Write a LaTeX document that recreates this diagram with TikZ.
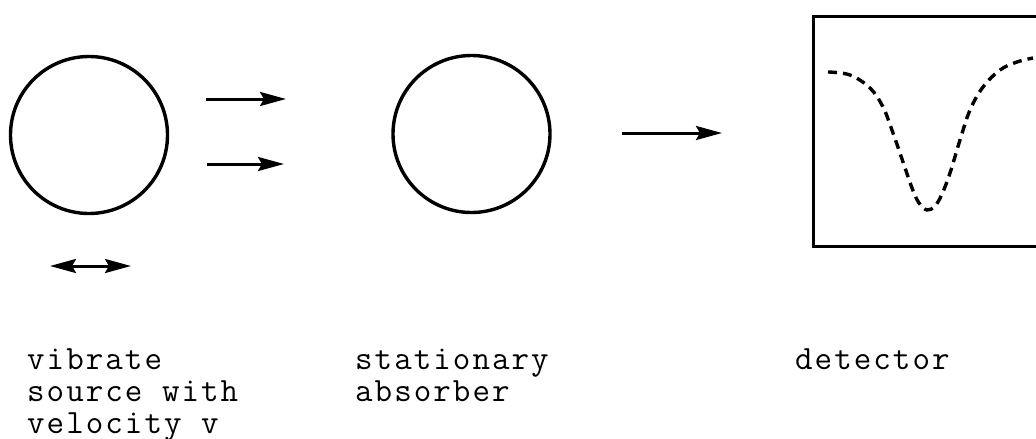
\documentclass[tikz,border=0pt]{standalone}
\usepackage{fontspec}
\newfontfamily\tw[LetterSpace=6]{Latin Modern Mono}
\usetikzlibrary{arrows.meta}
\tikzset{
  ring/.style={circle, draw, line width=3.4pt, minimum size=157pt, inner sep=0pt},
  beam/.style={line width=3pt, -{Stealth[length=26pt,width=14pt,inset=4pt]}},
  shake/.style={line width=3pt, {Stealth[length=26pt,width=14pt,inset=4pt]}-{Stealth[length=26pt,width=14pt,inset=4pt]}},
  label/.style={anchor=base west, inner sep=0pt, align=left, font={\tw\fontsize{34}{32}\selectfont}},
  spectrum/.style={line width=3.4pt, dash pattern=on 9pt off 6pt}
}
\begin{document}
\begin{tikzpicture}[x=1pt,y=-1pt]
\useasboundingbox (0,0) rectangle (1036,439);
\clip (0,0) rectangle (1036,439);
% source and absorber
\node[ring] (src) at (89,135) {};
\node[ring] (abs) at (471.5,134) {};
% arrows
\coordinate (a1s) at (206,99);  \coordinate (a1e) at (286,99);
\coordinate (a2s) at (207,164); \coordinate (a2e) at (284,164);
\coordinate (a3s) at (622,133); \coordinate (a3e) at (722,133);
\coordinate (vs) at (50,266);   \coordinate (ve) at (131,266);
\draw[beam] (a1s) -- (a1e);
\draw[beam] (a2s) -- (a2e);
\draw[beam] (a3s) -- (a3e);
\draw[shake] (vs) -- (ve);
% detector box (right side beyond frame)
\node[draw, line width=3.4pt, minimum width=240pt, minimum height=230pt, anchor=north west, inner sep=0pt] (det) at (812,15) {};
\draw[spectrum] plot[smooth, tension=0.6] coordinates {
 (828,72) (850,75) (870,88) (883,107) (893,133) (903,162) (912,188)
 (919,203) (927,210) (935,206) (942,194) (950,173) (960,140) (970,110) (983,87) (1000,70)
 (1017,62) (1033,58)};
% labels (anchored at the baseline of the last line)
\node[label] (l1) at (27,433) {vibrate\\source with\\velocity v};
\node[label] (l2) at (355,401) {stationary\\absorber};
\node[label] (l3) at (795,369) {detector};
\end{tikzpicture}
\end{document}
